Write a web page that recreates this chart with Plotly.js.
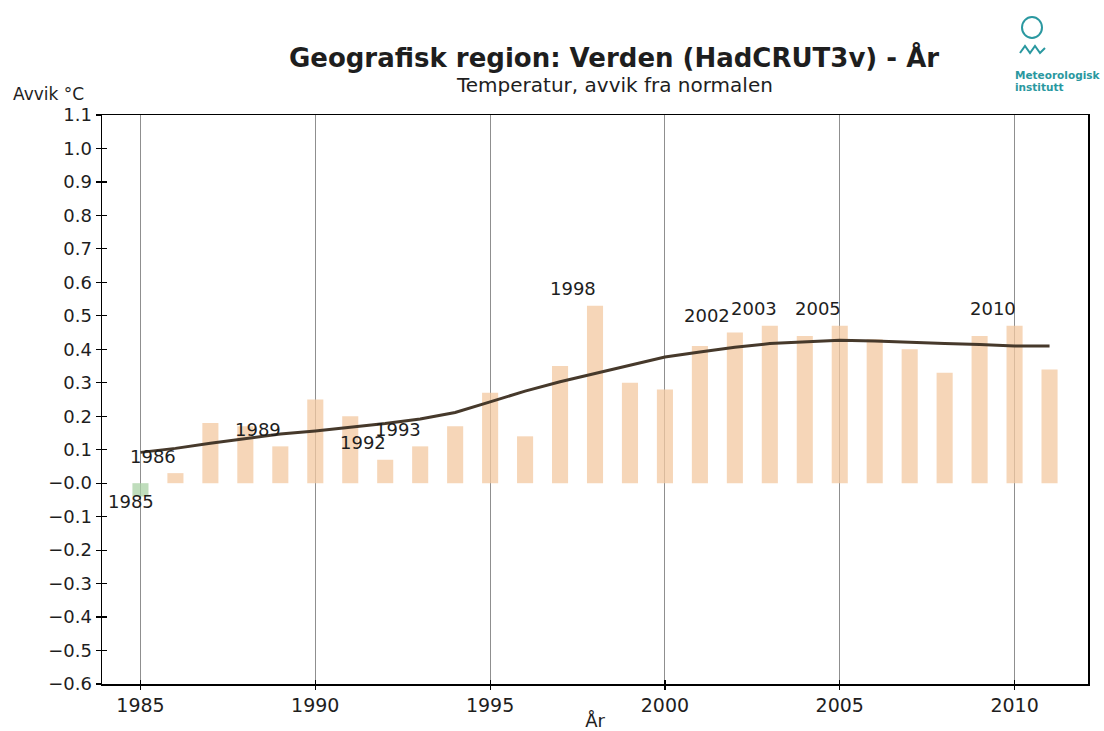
<!DOCTYPE html>
<html>
<head>
<meta charset="utf-8">
<script src="https://cdn.plot.ly/plotly-3.0.1.min.js"></script>
<style>
  html, body { margin: 0; padding: 0; background: #ffffff; }
  #chart { width: 1104px; height: 731px; }
</style>
</head>
<body>
<div id="chart"></div>
<script>
// ---- data ----
const years = [1985, 1986, 1987, 1988, 1989, 1990, 1991, 1992, 1993, 1994,
               1995, 1996, 1997, 1998, 1999, 2000, 2001, 2002, 2003, 2004,
               2005, 2006, 2007, 2008, 2009, 2010, 2011];
const anomaly = [-0.04, 0.03, 0.18, 0.17, 0.11, 0.25, 0.20, 0.07, 0.11, 0.17,
                 0.27, 0.14, 0.35, 0.53, 0.30, 0.28, 0.41, 0.45, 0.47, 0.44,
                 0.47, 0.43, 0.40, 0.33, 0.44, 0.47, 0.34];
const trend = [0.092, 0.104, 0.119, 0.134, 0.147, 0.156, 0.167, 0.178, 0.192, 0.211,
               0.243, 0.275, 0.303, 0.328, 0.354, 0.377, 0.392, 0.406, 0.417, 0.421,
               0.427, 0.425, 0.420, 0.417, 0.414, 0.410, 0.410];
const labelYears = [1985, 1986, 1989, 1992, 1993, 1998, 2002, 2003, 2005, 2010];
const xTickVals = [1985, 1990, 1995, 2000, 2005, 2010];
const yTickVals = [1.1, 1.0, 0.9, 0.8, 0.7, 0.6, 0.5, 0.4, 0.3, 0.2, 0.1, 0.0,
                   -0.1, -0.2, -0.3, -0.4, -0.5, -0.6];
const yTickText = ["1.1", "1.0", "0.9", "0.8", "0.7", "0.6", "0.5", "0.4", "0.3", "0.2", "0.1", "\u22120.0",
                   "\u22120.1", "\u22120.2", "\u22120.3", "\u22120.4", "\u22120.5", "\u22120.6"];
const titleText = "Geografisk region: Verden (HadCRUT3v) - År";
const subtitleText = "Temperatur, avvik fra normalen";
const yLabelText = "Avvik °C";
const xTitleText = "År";

// ---- styling ----
const FONT = "DejaVu Sans, Verdana, sans-serif";
const TXT = "#1e1e1e";
const POS_COLOR = "rgb(243,200,160)";
const NEG_COLOR = "rgb(170,210,165)";
const TREND_COLOR = "#46392b";
const TEAL = "#2a98a0";
const X_RANGE = [1983.9, 2012.1];
const Y_RANGE = [-0.6, 1.1];

const M = {l: 102, r: 16, t: 115, b: 47};
const W = 1104, H = 731;
const PW = W - M.l - M.r, PH = H - M.t - M.b;
// pixel -> paper helpers (for decorative placement only)
const px = x => (x - M.l) / PW;
const py = y => (H - M.b - y) / PH;

const bars = {
  type: "bar",
  x: years,
  y: anomaly,
  width: 0.46,
  marker: {color: anomaly.map(v => v < 0 ? NEG_COLOR : POS_COLOR), opacity: 0.75, line: {width: 0}},
  xaxis: "x", yaxis: "y",
  hoverinfo: "x+y",
  showlegend: false
};

const trendLine = {
  type: "scatter",
  mode: "lines",
  x: years,
  y: trend,
  line: {color: TREND_COLOR, width: 3},
  xaxis: "x2", yaxis: "y2",
  showlegend: false
};

// horizontal nudges of the year labels (2002/2003 pulled apart slightly)
const labelShift = {1985: -9, 2002: -28, 2003: -16};

const annotations = labelYears.map(yr => {
  const v = anomaly[years.indexOf(yr)];
  return {
    x: yr, y: v, xref: "x", yref: "y",
    text: String(yr), showarrow: false,
    xanchor: "center", yanchor: "middle",
    xshift: (yr in labelShift) ? labelShift[yr] : -22,
    yshift: v < 0 ? -5 : 17,
    font: {family: FONT, size: 18, color: TXT}
  };
});

annotations.push(
  {xref: "paper", yref: "paper", x: px(614), y: py(85), text: subtitleText,
   showarrow: false, xanchor: "center", yanchor: "middle",
   font: {family: FONT, size: 20, color: TXT}},
  {xref: "paper", yref: "paper", x: px(11), y: py(94), text: yLabelText,
   showarrow: false, xanchor: "left", yanchor: "middle",
   font: {family: FONT, size: 17, color: TXT}},
  {xref: "paper", yref: "paper", x: px(1013), y: py(75), text: "<b>Meteorologisk</b>",
   showarrow: false, xanchor: "left", yanchor: "middle",
   font: {family: FONT, size: 10.5, color: TEAL}},
  {xref: "paper", yref: "paper", x: px(1013), y: py(87), text: "<b>institutt</b>",
   showarrow: false, xanchor: "left", yanchor: "middle",
   font: {family: FONT, size: 10.5, color: TEAL}}
);

// decorative logo wave path (paper coordinates)
const wavePts = [[1020, 53], [1025, 46], [1030, 53], [1035, 46], [1040, 53], [1045, 48]];
let wavePath = "M " + px(wavePts[0][0]) + "," + py(wavePts[0][1]);
for (let i = 1; i < wavePts.length; i++) wavePath += " L " + px(wavePts[i][0]) + "," + py(wavePts[i][1]);

const shapes = [
  {type: "circle", xref: "paper", yref: "paper",
   x0: px(1022), x1: px(1042), y0: py(38), y1: py(17),
   line: {color: TEAL, width: 2}, fillcolor: "rgba(0,0,0,0)"},
  {type: "path", xref: "paper", yref: "paper", path: wavePath,
   line: {color: TEAL, width: 2}}
];

const layout = {
  width: W, height: H,
  margin: M,
  paper_bgcolor: "#ffffff",
  plot_bgcolor: "#ffffff",
  showlegend: false,
  title: {
    text: titleText,
    xref: "paper", yref: "paper",
    x: px(614), y: py(60),
    xanchor: "center", yanchor: "middle",
    font: {family: FONT, size: 26, color: TXT, weight: "bold"}
  },
  xaxis: {
    range: X_RANGE, fixedrange: true,
    tickmode: "array", tickvals: xTickVals,
    ticks: "outside", ticklen: 4, tickwidth: 1.2, tickcolor: "#000",
    showgrid: true, gridcolor: "#8f8f8f", gridwidth: 1,
    zeroline: false,
    showline: true, linecolor: "#000", linewidth: 1.5, mirror: true,
    tickfont: {family: FONT, size: 19, color: TXT},
    title: {text: xTitleText, standoff: 2, font: {family: FONT, size: 18, color: TXT}},
    automargin: false
  },
  yaxis: {
    range: Y_RANGE, fixedrange: true,
    tickmode: "array", tickvals: yTickVals, ticktext: yTickText,
    ticks: "outside", ticklen: 5, tickwidth: 1.2, tickcolor: "#000",
    showgrid: false, zeroline: false,
    showline: true, linecolor: "#000", linewidth: 1.5, mirror: true,
    tickfont: {family: FONT, size: 18, color: TXT},
    automargin: false
  },
  xaxis2: {
    overlaying: "x", side: "bottom", range: X_RANGE, fixedrange: true,
    tickmode: "array", tickvals: xTickVals,
    ticks: "inside", ticklen: 4, tickwidth: 1.2, tickcolor: "#000",
    showticklabels: false, showgrid: false, zeroline: false, showline: false
  },
  yaxis2: {
    overlaying: "y", side: "left", range: Y_RANGE, fixedrange: true,
    tickmode: "array", tickvals: yTickVals,
    ticks: "inside", ticklen: 5, tickwidth: 1.2, tickcolor: "#000",
    showticklabels: false, showgrid: false, zeroline: false, showline: false
  },
  annotations: annotations,
  shapes: shapes
};

Plotly.newPlot("chart", [bars, trendLine], layout, {displayModeBar: false, staticPlot: true});
</script>
</body>
</html>
